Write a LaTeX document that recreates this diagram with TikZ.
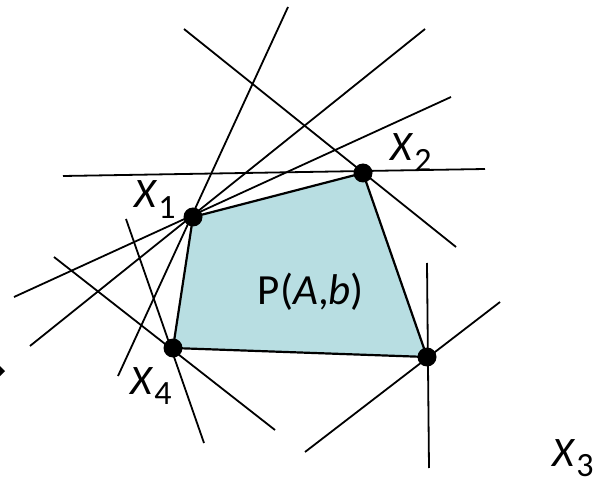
\documentclass[tikz,border=0pt]{standalone}
\usepackage{fontspec}
\setmainfont{Carlito}
\definecolor{polyfill}{RGB}{184,222,226}
\newcommand\ptlabel[1]{\textit{X}\kern1pt\raisebox{-0.24em}{\fontsize{34}{34}\selectfont #1}}
\begin{document}
\begin{tikzpicture}[x=1pt,y=-1pt,
  supp/.style={line width=1.8pt,black},
  edge/.style={line width=2.2pt,black},
  vert/.style={circle,fill=black,inner sep=0pt,minimum size=19pt},
  lab/.style={inner sep=0pt,anchor=base west,font=\fontsize{42}{42}\selectfont}]
\useasboundingbox (0,0) rectangle (606,484);
% vertices
\coordinate (X1) at (193,217);
\coordinate (X2) at (363,173);
\coordinate (X3) at (427,357);
\coordinate (X4) at (173,348);
% polygon
\fill[polyfill] (X1) -- (X2) -- (X3) -- (X4) -- cycle;
\draw[edge] (X1) -- (X2) -- (X3) -- (X4) -- cycle;
% supporting lines endpoints
\coordinate (a1) at (288,7);   \coordinate (b1) at (118,376);
\coordinate (a2) at (425,29);  \coordinate (b2) at (30,346);
\coordinate (a3) at (451,97);  \coordinate (b3) at (14,297);
\coordinate (a4) at (63,176);  \coordinate (b4) at (485,169);
\coordinate (a5) at (184,29);  \coordinate (b5) at (456,247);
\coordinate (a6) at (427,263); \coordinate (b6) at (429,468);
\coordinate (a7) at (500,302); \coordinate (b7) at (305,452);
\coordinate (a8) at (126,219); \coordinate (b8) at (204,443);
\coordinate (a9) at (54,257);  \coordinate (b9) at (275,430);
\foreach \i in {1,...,9} {\draw[supp] (a\i) -- (b\i);}
% vertices dots
\node[vert] (v1) at (X1) {};
\node[vert] (v2) at (X2) {};
\node[vert] (v3) at (X3) {};
\node[vert] (v4) at (X4) {};
% labels
\node[lab] (l1) at (134,208) {\ptlabel{1}};
\node[lab] (l2) at (390,161) {\ptlabel{2}};
\node[lab] (l3) at (552,466) {\ptlabel{3}};
\node[lab] (l4) at (130,394) {\ptlabel{4}};
\node[inner sep=0pt,font=\fontsize{43}{43}\selectfont] (P) at (311,292) {P(\textit{A},\textit{b})};
% small arrow tip at left edge
\fill (0,366) -- (5,371) -- (0,376) -- cycle;
\end{tikzpicture}
\end{document}
